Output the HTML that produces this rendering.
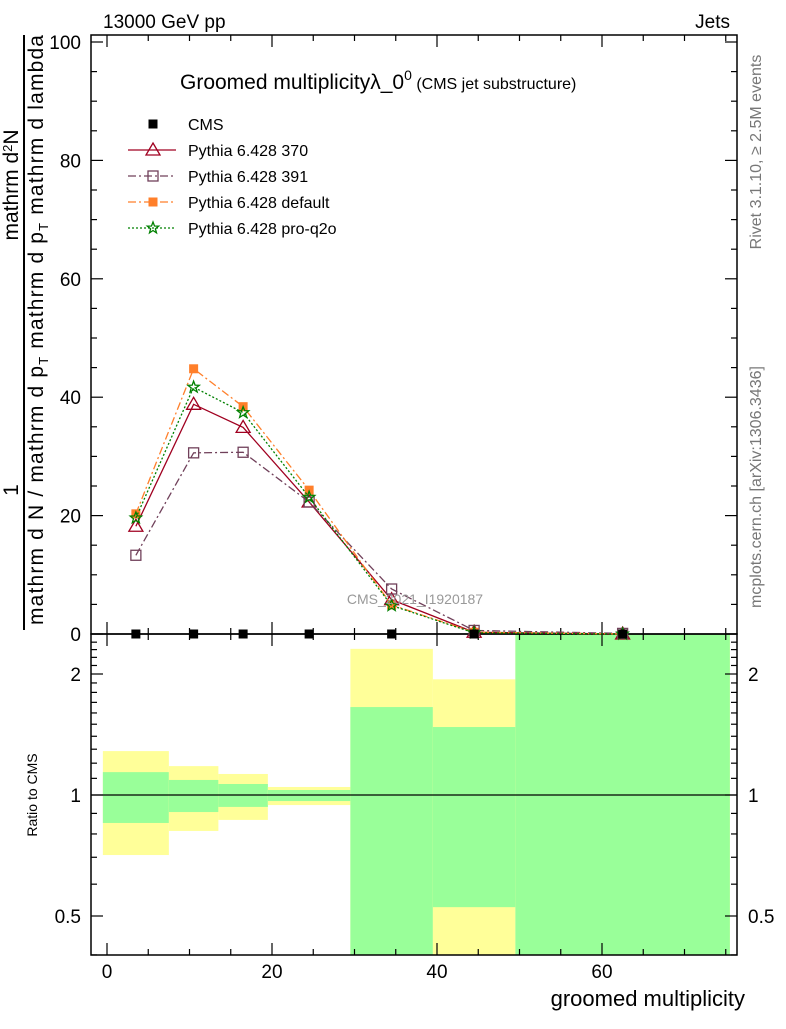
<!DOCTYPE html>
<html><head><meta charset="utf-8"><style>
body{margin:0;background:#fff;}
svg{font-family:"Liberation Sans",sans-serif;}
</style></head><body>
<svg id="c" width="786" height="1024" viewBox="0 0 786 1024" xmlns="http://www.w3.org/2000/svg">
<g id="bands"></g>
<g id="frames" fill="none" stroke="#000" stroke-width="1.5">
<rect x="91" y="35" width="646" height="599"/>
<rect x="91" y="634" width="646" height="321"/>
</g>
<g id="ticks" stroke="#000" stroke-width="1.2"></g>
<g id="series"></g>
<text x="103" y="28" font-size="19">13000 GeV pp</text>
<text x="730" y="28" font-size="19" text-anchor="end">Jets</text>
<text x="180" y="89" font-size="21">Groomed multiplicityλ_0<tspan dy="-9" font-size="14">0</tspan><tspan dy="9" font-size="16"> (CMS jet substructure)</tspan></text>
<text x="415" y="604" font-size="14" fill="#999" text-anchor="middle">CMS_2021_I1920187</text>
<text transform="translate(761,152) rotate(-90)" font-size="16" fill="#777" text-anchor="middle">Rivet 3.1.10, ≥ 2.5M events</text>
<text transform="translate(761,487) rotate(-90)" font-size="16" fill="#777" text-anchor="middle">mcplots.cern.ch [arXiv:1306.3436]</text>
<g font-size="21">
<line x1="24" y1="35" x2="24" y2="630" stroke="#000" stroke-width="2"/>
<text transform="translate(18,490) rotate(-90)" text-anchor="middle">1</text>
<text transform="translate(18,185) rotate(-90)" text-anchor="middle">mathrm d<tspan dy="-6" font-size="13">2</tspan><tspan dy="6">N</tspan></text>
<text transform="translate(43,330) rotate(-90)" text-anchor="middle" textLength="590">mathrm d N / mathrm d p<tspan dy="5" font-size="13">T</tspan><tspan dy="-5"> mathrm d p</tspan><tspan dy="5" font-size="13">T</tspan><tspan dy="-5"> mathrm d lambda</tspan></text>
</g>
<text transform="translate(37,795) rotate(-90)" font-size="14" text-anchor="middle">Ratio to CMS</text>
<text x="745" y="1006" font-size="22" text-anchor="end">groomed multiplicity</text>
<g id="legend" font-size="16"></g>
</svg>
<script>
const binEdges=[-0.5,7.5,13.5,19.5,29.5,39.5,49.5,75.5];
const binCenters=[3.5,10.5,16.5,24.5,34.5,44.5,62.5];
const cmsValues=[0,0,0,0,0,0,0];
const p370=[18.2,38.8,34.9,22.3,5.8,0.3,0];
const p391=[13.3,30.6,30.7,22.3,7.6,0.6,0.1];
const pDefault=[20.3,44.8,38.4,24.3,4.9,0.3,0];
const pProq2o=[19.6,41.7,37.4,23.1,4.8,0.2,0];
const yellowLo=[0.709,0.814,0.867,0.944,0.3,0.3,0.3];
const yellowHi=[1.286,1.18,1.128,1.047,2.31,1.94,3];
const greenLo=[0.852,0.907,0.934,0.966,0.3,0.526,0.3];
const greenHi=[1.14,1.09,1.065,1.029,1.655,1.476,3];
const xTicks=[0,20,40,60];
const yTicks=[0,20,40,60,80,100];
const rTicks=[0.5,1,2];

const NS="http://www.w3.org/2000/svg";
const X=v=>107+v*8.25;
const Y=v=>634-v*5.92;
const R=v=>{let y=795-Math.log2(v)*121;return Math.max(634,Math.min(955,y));};
function mk(tag,attrs,parent){const e=document.createElementNS(NS,tag);for(const k in attrs)e.setAttribute(k,attrs[k]);parent.appendChild(e);return e;}
const bands=document.getElementById('bands');
for(let i=0;i<binCenters.length;i++){
 const x0=Math.max(91,X(binEdges[i])),x1=Math.min(737,X(binEdges[i+1]));
 const y=mk('rect',{x:x0,y:R(yellowHi[i]),width:x1-x0,height:R(yellowLo[i])-R(yellowHi[i]),fill:'#ffff99'},bands);
 
 
 const g=mk('rect',{x:x0,y:R(greenHi[i]),width:x1-x0,height:R(greenLo[i])-R(greenHi[i]),fill:'#99ff99'},bands);
 
 
}
const ref=mk('line',{x1:91,x2:737,y1:R(1),y2:R(1),stroke:'#000','stroke-width':1.2},bands);



const tk=document.getElementById('ticks');
const svg=document.getElementById('c');
for(let v=0;v<=75;v+=5){
 const L=v%20==0?12:6;
 for(const [yb,yt] of [[634,35],[955,634]]){
  mk('line',{x1:X(v),x2:X(v),y1:yb,y2:yb-L},tk);mk('line',{x1:X(v),x2:X(v),y1:yt,y2:yt+L},tk);
 }
}
for(const v of xTicks){const t=mk('text',{x:X(v),y:978,'font-size':19,'text-anchor':'middle'},svg);t.textContent=v;
 
 }
for(let v=0;v<=100;v+=5){const L=v%20==0?12:6;mk('line',{x1:91,x2:91+L,y1:Y(v),y2:Y(v)},tk);mk('line',{x1:737,x2:737-L,y1:Y(v),y2:Y(v)},tk);}
for(const v of yTicks){const t=mk('text',{x:81,y:Y(v)+7,'font-size':19,'text-anchor':'end'},svg);t.textContent=v;
 
 }
for(let v=0.4;v<=2.5;v+=0.1){const major=rTicks.some(r=>Math.abs(r-v)<1e-6);const L=major?12:6;const y=R(v);if(y<=634||y>=955)continue;
 mk('line',{x1:91,x2:91+L,y1:y,y2:y},tk);mk('line',{x1:737,x2:737-L,y1:y,y2:y},tk);}
for(const v of rTicks){for(const [x,a] of [[81,'end'],[748,'start']]){const t=mk('text',{x:x,y:R(v)+7,'font-size':19,'text-anchor':a},svg);t.textContent=v;
 
 }}

const ser=document.getElementById('series');
function marker(type,x,y,col,p){
 if(type=='tri')mk('path',{d:`M${x},${y-7}L${x+7},${y+5}L${x-7},${y+5}Z`,fill:'none',stroke:col,'stroke-width':1.3},p);
 else if(type=='osq')mk('rect',{x:x-5,y:y-5,width:10,height:10,fill:'none',stroke:col,'stroke-width':1.3},p);
 else if(type=='fsq')mk('rect',{x:x-4.5,y:y-4.5,width:9,height:9,fill:col},p);
 else if(type=='star'){let d='';for(let k=0;k<10;k++){const r=k%2?2.5:6,a=-Math.PI/2+k*Math.PI/5;d+=(k?'L':'M')+(x+r*Math.cos(a)).toFixed(1)+','+(y+r*Math.sin(a)).toFixed(1);}mk('path',{d:d+'Z',fill:'none',stroke:col,'stroke-width':1.3},p);}
}
const defs=[
 {name:'pythia-370',vals:p370,col:'#a00020',dash:'',m:'tri',label:'Pythia 6.428 370'},
 {name:'pythia-391',vals:p391,col:'#70405a',dash:'8,3,2,3',m:'osq',label:'Pythia 6.428 391'},
 {name:'pythia-default',vals:pDefault,col:'#ff7f2a',dash:'8,3,2,3',m:'fsq',label:'Pythia 6.428 default'},
 {name:'pythia-pro-q2o',vals:pProq2o,col:'#008000',dash:'2,2',m:'star',label:'Pythia 6.428 pro-q2o'}];
for(const s of defs){
 const g=mk('g',{},ser);
 
 
 mk('polyline',{points:binCenters.map((c,i)=>X(c)+','+Y(s.vals[i])).join(' '),fill:'none',stroke:s.col,'stroke-width':1.3,'stroke-dasharray':s.dash},g);
 binCenters.forEach((c,i)=>marker(s.m,X(c),Y(s.vals[i]),s.col,g));
}
const cg=mk('g',{},ser);


binCenters.forEach((c,i)=>marker('fsq',X(c),Y(cmsValues[i]),'#000',cg));

const lg=document.getElementById('legend');
const e0=mk('g',{},lg);


marker('fsq',153,124,'#000',e0);
mk('text',{x:188,y:130},e0).textContent='CMS';
defs.forEach((s,i)=>{const y=150+i*26;const e=mk('g',{},lg);
 
 
 mk('line',{x1:128,x2:176,y1:y,y2:y,stroke:s.col,'stroke-width':1.3,'stroke-dasharray':s.dash},e);
 marker(s.m,153,y,s.col,e);
 mk('text',{x:188,y:y+6},e).textContent=s.label;});
</script>
</body></html>
